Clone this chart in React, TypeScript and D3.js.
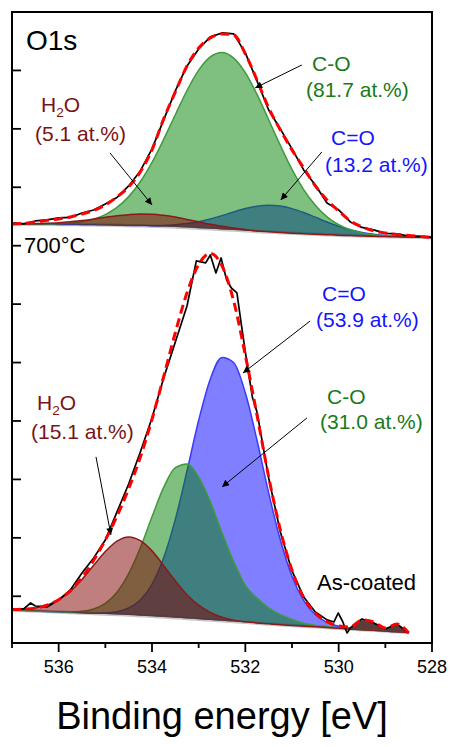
import React, { useEffect, useRef } from 'react';
import * as d3 from 'd3';

// Binding energy grid (eV), 0.25 eV steps
const energyTop = [537, 536.75, 536.5, 536.25, 536, 535.75, 535.5, 535.25, 535, 534.75, 534.5, 534.25, 534, 533.75, 533.5, 533.25, 533, 532.75, 532.5, 532.25, 532, 531.75, 531.5, 531.25, 531, 530.75, 530.5, 530.25, 530, 529.75, 529.5, 529.25, 529, 528.75, 528.5, 528.25, 528];
const energyBottom = [537, 536.75, 536.5, 536.25, 536, 535.75, 535.5, 535.25, 535, 534.75, 534.5, 534.25, 534, 533.75, 533.5, 533.25, 533, 532.75, 532.5, 532.25, 532, 531.75, 531.5, 531.25, 531, 530.75, 530.5, 530.25, 530, 529.75, 529.5, 529.25, 529, 528.75, 528.5];

// 700°C spectrum (upper curve), intensity in a.u.
const topBackground = [442.4, 442.2, 442.1, 442.0, 441.9, 441.8, 441.6, 441.4, 441.2, 441.0, 440.7, 440.4, 440.0, 439.6, 439.1, 438.6, 437.9, 437.3, 436.7, 436.1, 435.4, 434.6, 434.0, 433.4, 432.8, 432.3, 431.8, 431.3, 430.8, 430.4, 430.0, 429.7, 429.4, 429.1, 428.9, 428.7, 428.5];
const topCO = [0, 0, 0.1, 0.3, 0.7, 1.5, 3.1, 5.9, 10.7, 18.3, 29.7, 45.3, 65.5, 89.6, 115.4, 140.8, 162.4, 176.6, 181.8, 176.6, 162.4, 140.8, 115.4, 89.6, 65.5, 45.3, 29.7, 18.3, 10.7, 5.9, 3.1, 1.5, 0.7, 0.3, 0.1, 0, 0];
const topCdO = [0, 0, 0, 0, 0, 0, 0, 0, 0, 0, 0.1, 0.3, 0.6, 1.2, 2.4, 4.1, 6.7, 10.1, 14.2, 18.6, 22.7, 26.0, 27.6, 27.3, 25.3, 21.8, 17.5, 13.0, 9.1, 6.0, 3.6, 2.1, 1.0, 0.5, 0.2, 0.1, 0];
const topH2O = [0.1, 0.3, 0.5, 1.0, 1.7, 2.8, 4.2, 6.0, 7.9, 9.8, 11.2, 12.1, 12.3, 11.6, 10.3, 8.4, 6.6, 4.7, 3.2, 2.1, 1.2, 0.6, 0.3, 0.1, 0, 0, 0, 0, 0, 0, 0, 0, 0, 0, 0, 0, 0];
const topEnvelope = [442.4, 442.9, 444.4, 446.0, 447.5, 449.5, 452.6, 456.2, 461.9, 470.1, 480.4, 495.8, 518.4, 550.2, 577.9, 604.6, 623.1, 633.4, 637.5, 636.5, 616.9, 590.2, 561.5, 538.9, 518.4, 499.9, 481.4, 467.0, 455.7, 445.4, 439.3, 435.2, 433.1, 431.6, 430.5, 429.5, 428.5];
const topRaw = [443.4, 442.4, 445.4, 446.5, 448.5, 449.0, 453.6, 456.7, 462.9, 469.6, 481.4, 496.8, 519.4, 549.2, 578.9, 604.6, 622.1, 634.4, 638.5, 637.5, 618.0, 589.2, 559.4, 539.9, 519.4, 497.8, 482.4, 463.9, 456.7, 444.4, 438.8, 436.2, 432.6, 432.1, 430.0, 429.5, 428.5];

// As-coated spectrum (lower curve)
const bottomBackground = [45.9, 45.4, 44.9, 44.4, 43.9, 43.4, 42.8, 42.3, 41.8, 41.3, 40.8, 40.1, 39.4, 38.6, 37.9, 37.2, 36.5, 35.7, 34.8, 34.0, 33.2, 32.4, 31.6, 30.7, 30.0, 29.3, 28.6, 27.9, 27.1, 26.4, 25.7, 25.0, 24.3, 23.5, 22.8];
const bottomH2O = [0.5, 1.3, 3.0, 6.5, 12.5, 21.8, 34.5, 49.5, 64.1, 75.3, 80.1, 77.0, 67.2, 52.9, 37.9, 24.4, 14.3, 7.6, 3.6, 1.5, 0.6, 0.2, 0.1, 0, 0, 0, 0, 0, 0, 0, 0, 0, 0, 0, 0];
const bottomCO = [0, 0, 0, 0, 0.1, 0.4, 1.7, 4.7, 10.9, 22.8, 42.4, 69.7, 102.2, 133.2, 154.1, 158.6, 145.8, 121.2, 90.4, 61.6, 38.0, 25.7, 16.4, 10.3, 6.2, 2.9, 1.5, 0.7, 0.3, 0, 0, 0, 0, 0, 0];
const bottomCdO = [0, 0, 0, 0, 0, 0, 0.1, 0.3, 1.0, 2.8, 7.1, 16.0, 32.9, 60.9, 101.0, 151.4, 204.2, 247.5, 270.5, 266.0, 235.7, 187.8, 134.6, 87.3, 50.6, 26.5, 12.5, 5.3, 2.1, 0.7, 0.2, 0, 0, 0, 0];
const bottomEnvelope = [46.4, 46.8, 47.9, 50.9, 56.5, 65.5, 79.2, 96.9, 117.8, 142.2, 170.4, 202.9, 241.6, 285.6, 330.8, 371.6, 400.8, 412.0, 399.3, 363.2, 307.5, 246.1, 182.7, 128.3, 86.8, 58.7, 42.6, 33.9, 29.5, 28.5, 35.7, 33.6, 27.4, 31.6, 22.3];
const bottomRawEnergy = [537, 536.75, 536.6, 536.5, 536.25, 536, 535.75, 535.5, 535.25, 535, 534.75, 534.5, 534.25, 534, 533.75, 533.5, 533.25, 533.05, 532.85, 532.75, 532.63, 532.52, 532.4, 532.3, 532.18, 532.1, 532, 531.85, 531.75, 531.5, 531.25, 531, 530.75, 530.5, 530.25, 530.1, 530.01, 529.91, 529.82, 529.75, 529.5, 529.25, 529, 528.75, 528.5];
const bottomRaw = [47.0, 47.0, 53.1, 50.0, 49.0, 56.2, 66.5, 83.9, 99.3, 117.8, 146.6, 175.3, 208.2, 243.1, 284.2, 321.2, 358.1, 404.4, 402.3, 410.5, 392.0, 407.4, 384.8, 376.6, 371.5, 343.8, 310.9, 264.7, 249.3, 181.5, 126.0, 86.0, 59.3, 43.9, 35.7, 33.6, 42.8, 33.6, 22.3, 27.4, 36.7, 32.6, 26.4, 31.6, 22.3];

// axis ticks
const xMajorTicks = [536, 534, 532, 530, 528];
const xMinorTicks = [537, 535, 533, 531, 529];
const yTicks = [60, 120, 180, 240, 300, 360, 420, 480, 540, 600];

const W = 450;
const H = 747;
const LEFT = 12;
const RIGHT = 432;
const TOP = 12;
const BOTTOM = 643;
const FONT = 'Liberation Sans, Arial, Helvetica, sans-serif';

const TEXT_H2O = '#7a1414';
const TEXT_CO = '#197a19';
const TEXT_CDO = '#1414ff';

const App = () => {
  const svgRef = useRef(null);

  useEffect(() => {
    const svg = d3.select(svgRef.current);
    svg.selectAll('*').remove();

    const x = d3.scaleLinear().domain([537, 528]).range([LEFT, RIGHT]);
    const y = d3.scaleLinear().domain([12, 660]).range([BOTTOM, TOP]);

    const defs = svg.append('defs');
    defs.append('clipPath').attr('id', 'plot-clip')
      .append('rect')
      .attr('x', LEFT).attr('y', TOP)
      .attr('width', RIGHT - LEFT).attr('height', BOTTOM - TOP);
    defs.append('marker')
      .attr('id', 'arrow-head')
      .attr('viewBox', '0 0 10 10')
      .attr('refX', 10).attr('refY', 5)
      .attr('markerWidth', 9).attr('markerHeight', 7)
      .attr('markerUnits', 'userSpaceOnUse')
      .attr('orient', 'auto')
      .append('path').attr('d', 'M0,0 L10,5 L0,10 z').attr('fill', '#000');

    const plot = svg.append('g').attr('clip-path', 'url(#plot-clip)');

    const panels = [
      {
        energy: energyTop, bg: topBackground, envelope: topEnvelope,
        rawEnergy: energyTop, raw: topRaw, residualFrom: null,
        comps: [
          { values: topCdO, fill: '#0000ff', line: '#3a3aff' },
          { values: topCO, fill: '#008000', line: '#3d9b3d' },
          { values: topH2O, fill: '#800000', line: '#8b1a1a' }
        ]
      },
      {
        energy: energyBottom, bg: bottomBackground, envelope: bottomEnvelope,
        rawEnergy: bottomRawEnergy, raw: bottomRaw, residualFrom: 529.75,
        comps: [
          { values: bottomCdO, fill: '#0000ff', line: '#3a3aff' },
          { values: bottomCO, fill: '#008000', line: '#3d9b3d' },
          { values: bottomH2O, fill: '#800000', line: '#8b1a1a' }
        ]
      }
    ];

    const smoothLine = d3.line().x(d => x(d[0])).y(d => y(d[1])).curve(d3.curveMonotoneX);

    panels.forEach(p => {
      // background (Shirley)
      plot.append('path')
        .datum(p.energy.map((e, i) => [e, p.bg[i]]))
        .attr('d', smoothLine)
        .attr('fill', 'none')
        .attr('stroke', '#c8c8c8')
        .attr('stroke-width', 3.5);

      // fitted components
      p.comps.forEach(c => {
        const rows = p.energy.map((e, i) => ({ e, b: p.bg[i], t: p.bg[i] + c.values[i] }));
        plot.append('path')
          .datum(rows)
          .attr('d', d3.area().x(d => x(d.e)).y0(d => y(d.b)).y1(d => y(d.t)).curve(d3.curveMonotoneX))
          .attr('fill', c.fill)
          .attr('fill-opacity', 0.5);
        plot.append('path')
          .datum(rows.map(d => [d.e, d.t]))
          .attr('d', smoothLine)
          .attr('fill', 'none')
          .attr('stroke', c.line)
          .attr('stroke-width', 1.5);
      });

      // residual region at low binding energy
      if (p.residualFrom !== null) {
        const rows = p.energy
          .map((e, i) => ({ e, b: p.bg[i], t: p.envelope[i] }))
          .filter(d => d.e <= p.residualFrom);
        plot.append('path')
          .datum(rows)
          .attr('d', d3.area().x(d => x(d.e)).y0(d => y(d.b)).y1(d => y(d.t)))
          .attr('fill', '#5e3b3b');
      }

      // measured spectrum
      plot.append('path')
        .datum(p.rawEnergy.map((e, i) => [e, p.raw[i]]))
        .attr('d', d3.line().x(d => x(d[0])).y(d => y(d[1])))
        .attr('fill', 'none')
        .attr('stroke', '#000')
        .attr('stroke-width', 1.7)
        .attr('stroke-linejoin', 'round');

      // fit envelope
      plot.append('path')
        .datum(p.energy.map((e, i) => [e, p.envelope[i]]))
        .attr('d', smoothLine)
        .attr('fill', 'none')
        .attr('stroke', '#ff0000')
        .attr('stroke-width', 3)
        .attr('stroke-dasharray', '9,5');
    });

    // frame
    svg.append('rect')
      .attr('x', LEFT).attr('y', TOP)
      .attr('width', RIGHT - LEFT).attr('height', BOTTOM - TOP)
      .attr('fill', 'none').attr('stroke', '#000').attr('stroke-width', 2);

    // y ticks (inward, no labels)
    svg.append('g').selectAll('line').data(yTicks).enter().append('line')
      .attr('x1', LEFT).attr('x2', LEFT + 9)
      .attr('y1', d => y(d)).attr('y2', d => y(d))
      .attr('stroke', '#000').attr('stroke-width', 1.8);

    // x ticks (outward)
    svg.append('g').selectAll('line').data(xMajorTicks).enter().append('line')
      .attr('x1', d => x(d)).attr('x2', d => x(d))
      .attr('y1', BOTTOM).attr('y2', BOTTOM + 9)
      .attr('stroke', '#000').attr('stroke-width', 1.8);
    svg.append('g').selectAll('line').data(xMinorTicks).enter().append('line')
      .attr('x1', d => x(d)).attr('x2', d => x(d))
      .attr('y1', BOTTOM).attr('y2', BOTTOM + 5)
      .attr('stroke', '#000').attr('stroke-width', 1.8);
    svg.append('g').selectAll('text').data(xMajorTicks).enter().append('text')
      .attr('x', d => x(d)).attr('y', BOTTOM + 30)
      .attr('text-anchor', 'middle')
      .attr('font-family', FONT).attr('font-size', 18)
      .attr('fill', '#000')
      .text(d => d);

    svg.append('text')
      .attr('x', (LEFT + RIGHT) / 2).attr('y', 729)
      .attr('text-anchor', 'middle')
      .attr('font-family', FONT).attr('font-size', 38)
      .attr('fill', '#000')
      .text('Binding energy [eV]');

    // annotations
    const notes = [
      { text: 'O1s', x: 26, y: 50, size: 28, color: '#000' },
      { text: 'H2O', x: 41, y: 112, size: 21, color: TEXT_H2O },
      { text: '(5.1 at.%)', x: 35, y: 141, size: 21, color: TEXT_H2O },
      { text: 'C-O', x: 312, y: 71, size: 21, color: TEXT_CO },
      { text: '(81.7 at.%)', x: 306, y: 97, size: 21, color: TEXT_CO },
      { text: 'C=O', x: 331, y: 145, size: 21, color: TEXT_CDO },
      { text: '(13.2 at.%)', x: 325, y: 172, size: 21, color: TEXT_CDO },
      { text: '700°C', x: 24, y: 253, size: 22, color: '#000' },
      { text: 'C=O', x: 322, y: 301, size: 21, color: TEXT_CDO },
      { text: '(53.9 at.%)', x: 316, y: 327, size: 21, color: TEXT_CDO },
      { text: 'C-O', x: 327, y: 404, size: 21, color: TEXT_CO },
      { text: '(31.0 at.%)', x: 320, y: 429, size: 21, color: TEXT_CO },
      { text: 'H2O', x: 37, y: 410, size: 21, color: TEXT_H2O },
      { text: '(15.1 at.%)', x: 31, y: 439, size: 21, color: TEXT_H2O },
      { text: 'As-coated', x: 317, y: 590, size: 22, color: '#000' }
    ];
    notes.forEach(n => {
      const t = svg.append('text')
        .attr('x', n.x).attr('y', n.y)
        .attr('font-family', FONT).attr('font-size', n.size)
        .attr('fill', n.color);
      if (n.text === 'H2O') {
        t.append('tspan').text('H');
        t.append('tspan').attr('font-size', n.size * 0.65).attr('dy', 5).text('2');
        t.append('tspan').attr('dy', -5).text('O');
      } else {
        t.text(n.text);
      }
    });

    // arrows, in (energy, intensity)
    const arrows = [
      [[530.79, 605.6], [531.79, 582.0]],
      [[530.36, 516.3], [531.24, 467.0]],
      [[534.9, 515.3], [534.0, 461.9]],
      [[530.61, 342.7], [532.05, 289.3]],
      [[530.68, 243.1], [532.5, 172.3]],
      [[535.2, 203.1], [534.88, 123.0]]
    ];
    svg.append('g').selectAll('line').data(arrows).enter().append('line')
      .attr('x1', d => x(d[0][0])).attr('y1', d => y(d[0][1]))
      .attr('x2', d => x(d[1][0])).attr('y2', d => y(d[1][1]))
      .attr('stroke', '#000').attr('stroke-width', 1)
      .attr('marker-end', 'url(#arrow-head)');
  }, []);

  return (
    <svg
      ref={svgRef}
      width={W}
      height={H}
      style={{ position: 'absolute', left: 0, top: 0, background: '#fff' }}
    />
  );
};

export default App;
